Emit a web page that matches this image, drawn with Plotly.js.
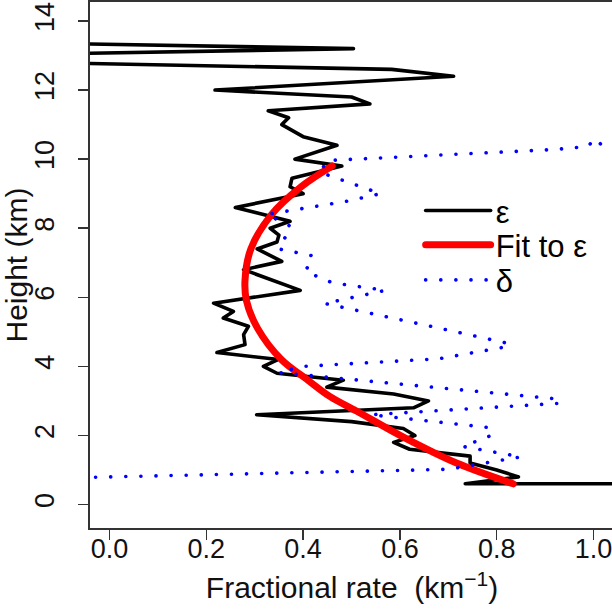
<!DOCTYPE html>
<html>
<head>
<meta charset="utf-8">
<script src="https://cdn.plot.ly/plotly-3.0.1.min.js"></script>
<style>
html, body { margin: 0; padding: 0; overflow: hidden; background: #fff; }
#chart { width: 614px; height: 611px; }
.scatterlayer path.js-line { stroke-linecap: round; stroke-linejoin: round; }
.legendlines path { stroke-linecap: round; }
</style>
</head>
<body>
<div id="chart"></div>
<script>
// epsilon profile (fractional rate, km^-1) vs height (km)
const epsHeight = [0.6, 0.6, 0.8, 1.0, 1.2, 1.4, 1.6, 1.8, 2.0, 2.2, 2.4, 2.6, 2.8, 3.0, 3.2, 3.4, 3.6, 3.8, 4.0, 4.2, 4.4, 4.63, 4.92, 5.16, 5.4, 5.59, 5.83, 6.2, 6.8, 7.04, 7.4, 7.6, 7.8, 8.0, 8.2, 8.6, 9.0, 9.2, 9.45, 9.8, 10.0, 10.4, 10.65, 10.8, 11.0, 11.2, 11.4, 11.6, 11.8, 12.0, 12.4, 12.6, 12.8, 13.0, 13.2, 13.4];
const epsRate   = [1.6, 0.735, 0.845, 0.80, 0.745, 0.745, 0.62, 0.587, 0.631, 0.607, 0.50, 0.304, 0.628, 0.659, 0.587, 0.449, 0.483, 0.346, 0.318, 0.349, 0.222, 0.28, 0.277, 0.287, 0.235, 0.256, 0.215, 0.394, 0.277, 0.356, 0.305, 0.346, 0.35, 0.332, 0.373, 0.26, 0.40, 0.373, 0.377, 0.48, 0.383, 0.47, 0.40, 0.38, 0.356, 0.37, 0.328, 0.538, 0.50, 0.218, 0.711, 0.583, -0.15, -0.3, 0.504, -0.3];

// fit to epsilon
const fitHeight = [0.6, 1.2, 1.9, 2.7, 3.13, 3.6, 4.2, 5.1, 5.9, 6.5, 7.4, 8.4, 9.2, 9.8];
const fitRate   = [0.834, 0.717, 0.614, 0.511, 0.455, 0.410, 0.355, 0.306, 0.283, 0.280, 0.292, 0.335, 0.396, 0.460];

// delta profile
const deltaHeight = [0.78, 1.02, 1.38, 1.68, 1.98, 2.22, 2.6, 2.93, 3.05, 3.53, 3.82, 4.0, 4.22, 4.58, 4.66, 5.08, 5.82, 6.2, 6.42, 6.75, 7.2, 7.4, 8.05, 8.4, 8.78, 9.0, 9.62, 9.96, 10.28, 10.37, 10.6, 10.38, 10.9];
const deltaRate   = [-0.06, 0.70, 0.85, 0.73, 0.785, 0.79, 0.54, 0.93, 0.93, 0.58, 0.35, 0.40, 0.68, 0.825, 0.825, 0.69, 0.445, 0.57, 0.46, 0.405, 0.42, 0.35, 0.375, 0.325, 0.49, 0.56, 0.435, 0.45, 0.92, 0.99, 1.0, 1.02, 1.2];

const xTicks = [0, 0.2, 0.4, 0.6, 0.8, 1.0];
const xTickText = ['0.0', '0.2', '0.4', '0.6', '0.8', '1.0'];
const yTicks = [0, 2, 4, 6, 8, 10, 12, 14];
const yTickText = ['0', '2', '4', '6', '8', '10', '12', '14'];

const traces = [
  { x: epsRate, y: epsHeight, mode: 'lines', name: 'ε', legend: 'legend',
    line: { color: '#000000', width: 3.6 } },
  { x: fitRate, y: fitHeight, mode: 'lines', name: 'Fit to ε', legend: 'legend2',
    line: { color: '#ff0000', width: 7, shape: 'spline', smoothing: 1 } },
  { x: deltaRate, y: deltaHeight, mode: 'lines', name: 'δ', legend: 'legend3',
    line: { color: '#0000ff', width: 3.6, dash: '0.1px,15px' } }
];

const font = 'Liberation Sans, Arial, Helvetica, sans-serif';

function legendAt(yPaper) {
  return {
    x: 0.631, y: yPaper, xanchor: 'left', yanchor: 'middle',
    bgcolor: 'rgba(0,0,0,0)', borderwidth: 0,
    font: { family: font, size: 31, color: '#000' },
    itemwidth: 65
  };
}

const layout = {
  width: 614, height: 611,
  margin: { l: 90, r: 0, t: 2, b: 82.5, pad: 0 },
  paper_bgcolor: '#ffffff', plot_bgcolor: '#ffffff',
  font: { family: font, color: '#000000', size: 26 },
  showlegend: true,
  legend: legendAt(0.603),
  legend2: legendAt(0.538),
  legend3: legendAt(0.471),
  xaxis: {
    range: [-0.0403, 1.0423], tickmode: 'array', tickvals: xTicks, ticktext: xTickText,
    ticks: 'outside', ticklen: 10, tickwidth: 1.5, tickcolor: '#333',
    showline: true, linecolor: '#333', linewidth: 2, mirror: true,
    showgrid: false, zeroline: false,
    tickfont: { family: font, size: 27, color: '#111' },
    ticklabelstandoff: -14,
    title: { text: 'Fractional rate  (km<sup>−1</sup>)', font: { family: font, size: 30, color: '#111' }, standoff: 14 }
  },
  yaxis: {
    range: [-0.68, 14.55], tickmode: 'array', tickvals: yTicks, ticktext: yTickText,
    ticks: 'outside', ticklen: 10, tickwidth: 1.5, tickcolor: '#333', tickangle: -90,
    showline: true, linecolor: '#333', linewidth: 2, mirror: true,
    showgrid: false, zeroline: false,
    tickfont: { family: font, size: 27, color: '#111' },
    ticklabelstandoff: 13,
    title: { text: 'Height (km)', font: { family: font, size: 30, color: '#111' }, standoff: 7 }
  }
};

Plotly.newPlot('chart', traces, layout, { displayModeBar: false, staticPlot: true });
</script>
</body>
</html>
